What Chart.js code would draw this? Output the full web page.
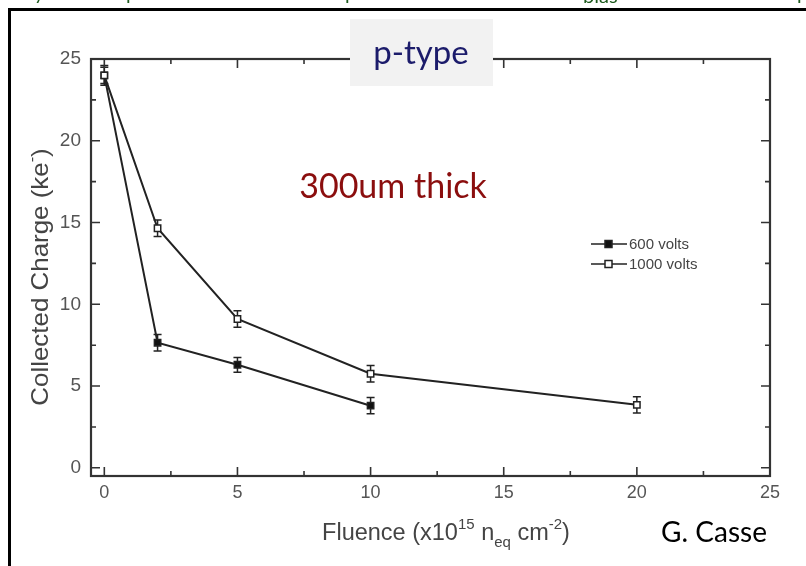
<!DOCTYPE html>
<html>
<head>
<meta charset="utf-8">
<script src="https://cdn.jsdelivr.net/npm/chart.js@4.4.1/dist/chart.umd.min.js"></script>
<style>
  html, body { margin: 0; padding: 0; background: #fff; }
  canvas { display: block; }
</style>
</head>
<body>
<canvas id="chart" width="806" height="566"></canvas>
<script>
// data
const fluence600 = [0, 2, 5, 10];
const charge600 = [24.0, 7.65, 6.3, 3.8];
const err600 = [0.6, 0.5, 0.45, 0.5];

const fluence1000 = [0, 2, 5, 10, 20];
const charge1000 = [24.0, 14.65, 9.1, 5.75, 3.85];
const err1000 = [0.5, 0.5, 0.5, 0.5, 0.5];

const xTicks = [0, 5, 10, 15, 20, 25];
const xMinor = [2.5, 7.5, 12.5, 17.5, 22.5];
const yTicks = [0, 5, 10, 15, 20, 25];
const yMinor = [2.5, 7.5, 12.5, 17.5, 22.5];

const seriesLabels = ['600 volts', '1000 volts'];

const FONT = '"Liberation Sans", Arial, sans-serif';
const SLIDE_FONT = 'Lato, "Open Sans", sans-serif';

function pts(xs, ys) {
  return xs.map((x, i) => ({ x: x, y: ys[i] }));
}

// draw text with sup/sub parts, centred on x
function richText(ctx, parts, cx, y, size) {
  const small = Math.round(size * 0.62);
  let w = 0;
  parts.forEach(p => {
    ctx.font = (p.s ? small : size) + 'px ' + FONT;
    p.w = ctx.measureText(p.t).width;
    w += p.w;
  });
  let x = cx - w / 2;
  ctx.textAlign = 'left';
  ctx.textBaseline = 'alphabetic';
  parts.forEach(p => {
    ctx.font = (p.s ? small : size) + 'px ' + FONT;
    let dy = 0;
    if (p.s === 'sup') dy = -size * 0.45;
    if (p.s === 'sub') dy = size * 0.3;
    ctx.fillText(p.t, x, y + dy);
    x += p.w;
  });
}

const errorBars = {
  id: 'errorBars',
  beforeDatasetsDraw(chart) {
    const ctx = chart.ctx;
    const xs = chart.scales.x, ys = chart.scales.y;
    const sets = [[fluence600, charge600, err600], [fluence1000, charge1000, err1000]];
    ctx.save();
    ctx.strokeStyle = '#222';
    ctx.lineWidth = 1.5;
    sets.forEach(([fx, cy, e]) => {
      fx.forEach((v, i) => {
        const px = xs.getPixelForValue(v);
        const top = ys.getPixelForValue(cy[i] + e[i]);
        const bot = ys.getPixelForValue(cy[i] - e[i]);
        ctx.beginPath();
        ctx.moveTo(px, top); ctx.lineTo(px, bot);
        ctx.moveTo(px - 4, top); ctx.lineTo(px + 4, top);
        ctx.moveTo(px - 4, bot); ctx.lineTo(px + 4, bot);
        ctx.stroke();
      });
    });
    ctx.restore();
  }
};

const frameAndText = {
  id: 'frameAndText',
  afterDraw(chart) {
    const ctx = chart.ctx;
    const a = chart.chartArea;
    const xs = chart.scales.x, ys = chart.scales.y;
    ctx.save();

    // plot frame
    ctx.strokeStyle = '#333';
    ctx.lineWidth = 2.2;
    ctx.strokeRect(a.left, a.top, a.right - a.left, a.bottom - a.top);

    // inward ticks on all four sides
    ctx.lineWidth = 1.6;
    ctx.beginPath();
    const tickX = (v, len) => {
      const p = xs.getPixelForValue(v);
      ctx.moveTo(p, a.bottom); ctx.lineTo(p, a.bottom - len);
      ctx.moveTo(p, a.top); ctx.lineTo(p, a.top + len);
    };
    const tickY = (v, len) => {
      const p = ys.getPixelForValue(v);
      ctx.moveTo(a.left, p); ctx.lineTo(a.left + len, p);
      ctx.moveTo(a.right, p); ctx.lineTo(a.right - len, p);
    };
    xTicks.forEach(v => tickX(v, 9));
    xMinor.forEach(v => tickX(v, 5));
    yTicks.forEach(v => tickY(v, 9));
    yMinor.forEach(v => tickY(v, 5));
    ctx.stroke();

    // axis titles
    ctx.fillStyle = '#444';
    richText(ctx, [
      { t: 'Fluence (x10' }, { t: '15', s: 'sup' }, { t: ' n' }, { t: 'eq', s: 'sub' },
      { t: ' cm' }, { t: '-2', s: 'sup' }, { t: ')' }
    ], 446, 540, 23.5);
    ctx.save();
    ctx.translate(48, 277);
    ctx.rotate(-Math.PI / 2);
    ctx.scale(1.08, 1);
    richText(ctx, [{ t: 'Collected Charge (ke' }, { t: '-', s: 'sup' }, { t: ')' }], 0, 0, 24);
    ctx.restore();

    // legend
    const ds = chart.data.datasets;
    ds.forEach((d, i) => {
      const y = 244 + i * 20;
      ctx.strokeStyle = '#222';
      ctx.lineWidth = 1.5;
      ctx.beginPath();
      ctx.moveTo(591, y); ctx.lineTo(627, y);
      ctx.stroke();
      ctx.fillStyle = d.pointBackgroundColor;
      ctx.fillRect(605, y - 3.5, 7, 7);
      ctx.strokeRect(605, y - 3.5, 7, 7);
      ctx.fillStyle = '#444';
      ctx.font = '15px ' + FONT;
      ctx.textAlign = 'left';
      ctx.textBaseline = 'middle';
      ctx.fillText(d.label, 629, y + 1);
    });

    // slide overlays
    ctx.fillStyle = '#f2f2f2';
    ctx.fillRect(350, 19, 143, 67);
    ctx.fillStyle = '#1c1c6b';
    ctx.font = '33px ' + SLIDE_FONT;
    ctx.textAlign = 'center';
    ctx.textBaseline = 'alphabetic';
    ctx.fillText('p-type', 421, 64);

    ctx.fillStyle = '#8b0e0e';
    ctx.font = '34px ' + SLIDE_FONT;
    ctx.fillText('300um thick', 393, 198);

    ctx.fillStyle = '#000';
    ctx.font = '28px ' + SLIDE_FONT;
    ctx.fillText('G. Casse', 714, 542);

    // slide border and clipped title fragments
    ctx.strokeStyle = '#000';
    ctx.lineWidth = 3;
    ctx.beginPath();
    ctx.moveTo(9.5, 566); ctx.lineTo(9.5, 9.5); ctx.lineTo(806, 9.5);
    ctx.stroke();
    ctx.fillStyle = '#1e5a1e';
    ctx.font = '20px ' + SLIDE_FONT;
    ctx.textAlign = 'left';
    ctx.fillText('bias', 583, 3);
    ctx.fillText('y', 34, 0);
    ctx.fillText('p', 126, 0);
    ctx.fillText('p', 345, 0);
    ctx.fillText('p', 797, 0);

    ctx.restore();
  }
};

new Chart(document.getElementById('chart'), {
  type: 'scatter',
  data: {
    datasets: [
      {
        label: seriesLabels[0],
        data: pts(fluence600, charge600),
        order: 1,
        showLine: true,
        borderColor: '#222',
        borderWidth: 2,
        pointStyle: 'rect',
        pointRadius: 4.5,
        pointBorderWidth: 1.5,
        pointBorderColor: '#222',
        pointBackgroundColor: '#111'
      },
      {
        label: seriesLabels[1],
        data: pts(fluence1000, charge1000),
        order: 0,
        showLine: true,
        borderColor: '#222',
        borderWidth: 2,
        pointStyle: 'rect',
        pointRadius: 4.5,
        pointBorderWidth: 1.5,
        pointBorderColor: '#222',
        pointBackgroundColor: '#fff'
      }
    ]
  },
  options: {
    responsive: false,
    animation: false,
    layout: { padding: { top: 59, right: 36, left: 0, bottom: 0 } },
    plugins: { legend: { display: false }, tooltip: { enabled: false } },
    scales: {
      x: {
        type: 'linear',
        min: -0.5,
        max: 25,
        grid: { display: false, drawTicks: false },
        border: { display: false },
        afterBuildTicks: s => { s.ticks = xTicks.map(v => ({ value: v })); },
        afterFit: s => { s.height = 90; },
        ticks: { color: '#555', font: { family: FONT, size: 18 }, padding: 6, maxRotation: 0 }
      },
      y: {
        type: 'linear',
        min: -0.5,
        max: 25,
        grid: { display: false, drawTicks: false },
        border: { display: false },
        afterBuildTicks: s => { s.ticks = yTicks.map(v => ({ value: v })); },
        afterFit: s => { s.width = 91; },
        ticks: { color: '#555', font: { family: FONT, size: 19 }, padding: 10 }
      }
    }
  },
  plugins: [errorBars, frameAndText]
});
</script>
</body>
</html>
